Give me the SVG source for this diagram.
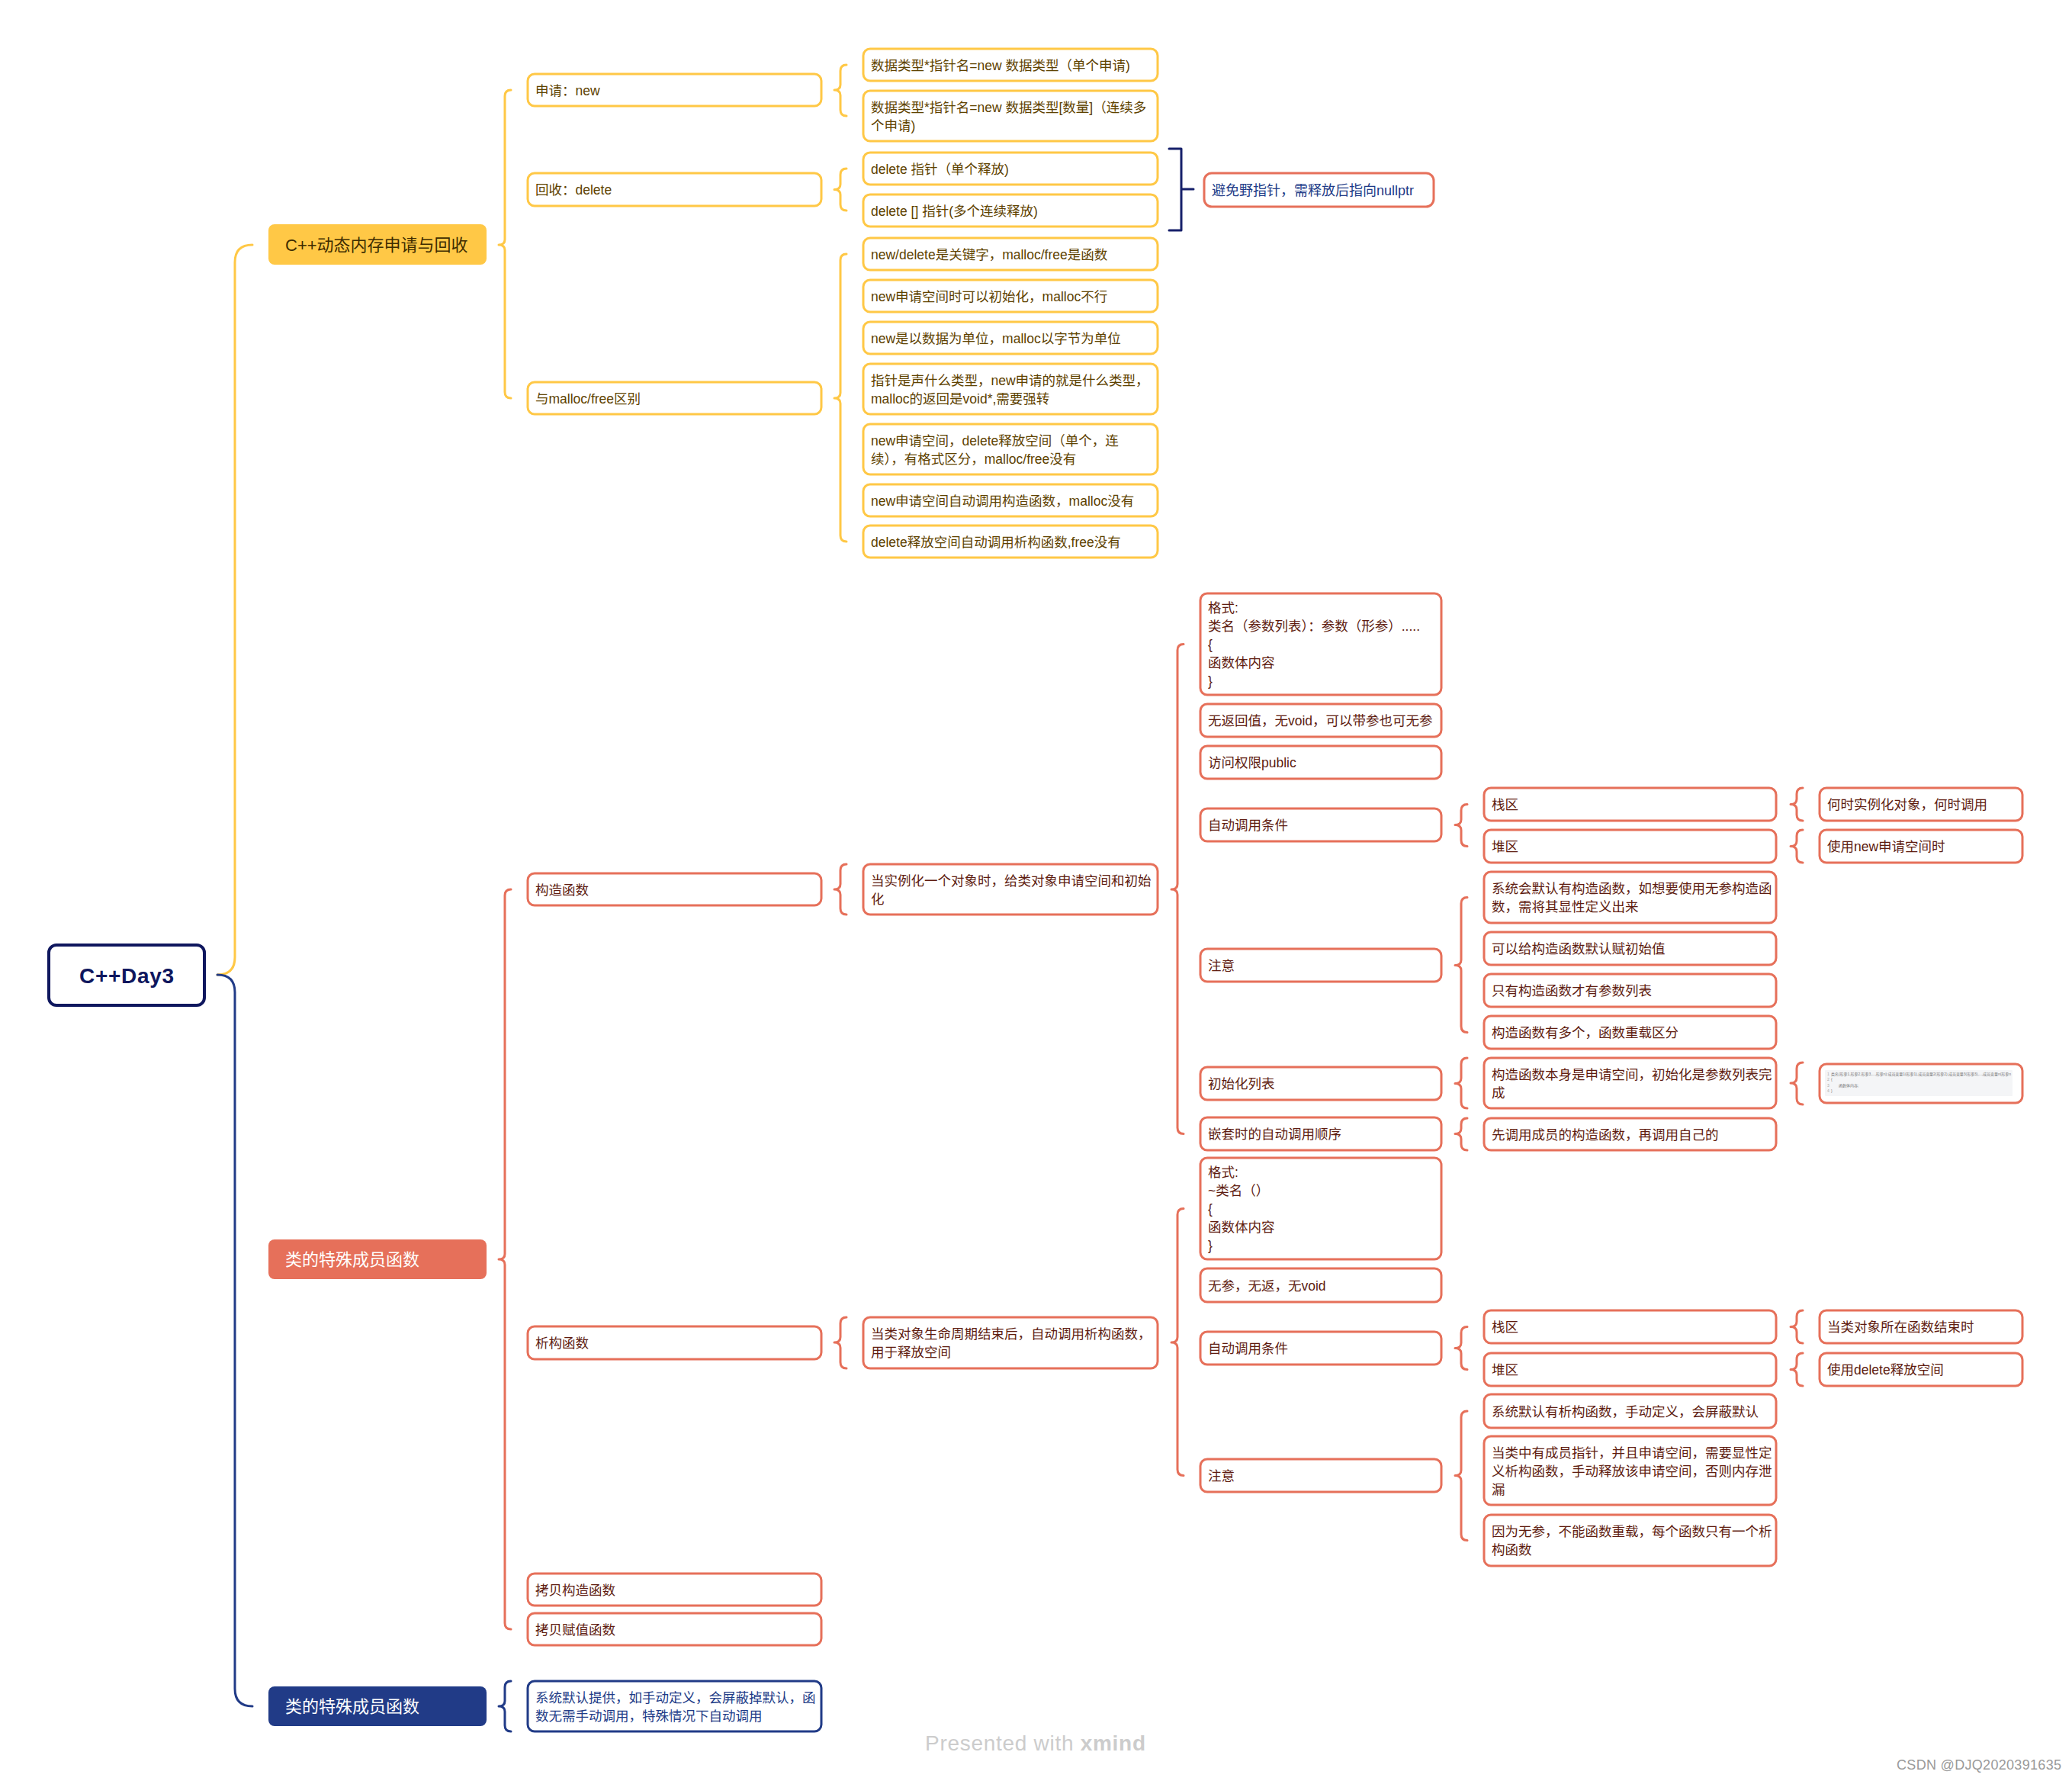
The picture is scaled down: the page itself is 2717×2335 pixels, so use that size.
<svg xmlns="http://www.w3.org/2000/svg" width="2717" height="2335" viewBox="0 0 2717 2335">
<style>
text{font-family:"Liberation Sans","Noto Sans CJK SC",sans-serif;font-size:17.5px}
.b rect{fill:#fff;stroke-width:3}
.y rect{stroke:#FFC846}
.s rect{stroke:#E6705A}
.n rect{stroke:#213B87}
.y text{fill:#5E4200}
.s text{fill:#5E1C10}
.n text{fill:#213B87}
.l1 text{font-size:22px}
.cy,.cs,.cn,.cd{fill:none;stroke-width:3;stroke-linejoin:round;stroke-linecap:round}
.cy{stroke:#FFC846}
.cs{stroke:#E6705A}
.cn{stroke:#213B87}
.cd{stroke:#16206A}
</style>
<rect width="2717" height="2335" fill="#fff"/>
<g id="connectors">
<path class="cy" d="M285,1278 Q308,1278 308,1255 V344 Q308,321 331,321"/>
<path class="cn" d="M285,1278 Q308,1278 308,1301 V2214 Q308,2237 331,2237"/>
<path class="cy" d="M670,118 Q662,118 662,126 V314 Q662,321 654,321 Q662,321 662,328 V514 Q662,522 670,522"/>
<path class="cy" d="M1110,85 Q1102,85 1102,93 V111 Q1102,118 1094,118 Q1102,118 1102,125 V144 Q1102,152 1110,152"/>
<path class="cy" d="M1110,221 Q1102,221 1102,229 V241.5 Q1102,248.5 1094,248.5 Q1102,248.5 1102,255.5 V268 Q1102,276 1110,276"/>
<path class="cy" d="M1110,333 Q1102,333 1102,341 V515 Q1102,522 1094,522 Q1102,522 1102,529 V702 Q1102,710 1110,710"/>
<path class="cd" d="M1533,195 H1549 V302 H1533 M1549,248 H1565" stroke-linecap="butt"/>
<path class="cs" d="M670,1166 Q662,1166 662,1174 V1644 Q662,1651 654,1651 Q662,1651 662,1658 V2128 Q662,2136 670,2136"/>
<path class="cs" d="M1110,1133 Q1102,1133 1102,1141 V1159 Q1102,1166 1094,1166 Q1102,1166 1102,1173 V1191 Q1102,1199 1110,1199"/>
<path class="cs" d="M1552,844.5 Q1544,844.5 1544,852.5 V1159 Q1544,1166 1536,1166 Q1544,1166 1544,1173 V1478.5 Q1544,1486.5 1552,1486.5"/>
<path class="cs" d="M1924,1054.5 Q1916,1054.5 1916,1062.5 V1074.5 Q1916,1081.5 1908,1081.5 Q1916,1081.5 1916,1088.5 V1101.5 Q1916,1109.5 1924,1109.5"/>
<path class="cs" d="M1924,1176.5 Q1916,1176.5 1916,1184.5 V1258.5 Q1916,1265.5 1908,1265.5 Q1916,1265.5 1916,1272.5 V1345.5 Q1916,1353.5 1924,1353.5"/>
<path class="cs" d="M1924,1387 Q1916,1387 1916,1395 V1413.5 Q1916,1420.5 1908,1420.5 Q1916,1420.5 1916,1427.5 V1445 Q1916,1453 1924,1453"/>
<path class="cs" d="M1924,1466 Q1916,1466 1916,1474 V1479.5 Q1916,1486.5 1908,1486.5 Q1916,1486.5 1916,1493.5 V1500 Q1916,1508 1924,1508"/>
<path class="cs" d="M2364,1033 Q2356,1033 2356,1041 V1047.5 Q2356,1054.5 2348,1054.5 Q2356,1054.5 2356,1061.5 V1068 Q2356,1076 2364,1076"/>
<path class="cs" d="M2364,1088 Q2356,1088 2356,1096 V1102.5 Q2356,1109.5 2348,1109.5 Q2356,1109.5 2356,1116.5 V1123 Q2356,1131 2364,1131"/>
<path class="cs" d="M2364,1393 Q2356,1393 2356,1401 V1413 Q2356,1420 2348,1420 Q2356,1420 2356,1427 V1440 Q2356,1448 2364,1448"/>
<path class="cs" d="M1110,1727 Q1102,1727 1102,1735 V1753 Q1102,1760 1094,1760 Q1102,1760 1102,1767 V1786 Q1102,1794 1110,1794"/>
<path class="cs" d="M1552,1584.5 Q1544,1584.5 1544,1592.5 V1753 Q1544,1760 1536,1760 Q1544,1760 1544,1767 V1926.5 Q1544,1934.5 1552,1934.5"/>
<path class="cs" d="M1924,1739.5 Q1916,1739.5 1916,1747.5 V1760.5 Q1916,1767.5 1908,1767.5 Q1916,1767.5 1916,1774.5 V1787.5 Q1916,1795.5 1924,1795.5"/>
<path class="cs" d="M1924,1850 Q1916,1850 1916,1858 V1927.5 Q1916,1934.5 1908,1934.5 Q1916,1934.5 1916,1941.5 V2011.5 Q1916,2019.5 1924,2019.5"/>
<path class="cs" d="M2364,1718 Q2356,1718 2356,1726 V1732.5 Q2356,1739.5 2348,1739.5 Q2356,1739.5 2356,1746.5 V1753 Q2356,1761 2364,1761"/>
<path class="cs" d="M2364,1774 Q2356,1774 2356,1782 V1788.5 Q2356,1795.5 2348,1795.5 Q2356,1795.5 2356,1802.5 V1809 Q2356,1817 2364,1817"/>
<path class="cn" d="M670,2204 Q662,2204 662,2212 V2230 Q662,2237 654,2237 Q662,2237 662,2244 V2262 Q662,2270 670,2270"/>
</g>

<g id="root"><rect x="64" y="1239" width="204" height="79" rx="10" fill="#fff" stroke="#0F175E" stroke-width="4"/><text x="104" y="1289" font-weight="bold" fill="#0F175E" textLength="124" style="font-size:28px">C++Day3</text></g>

<g id="b1" class="l1"><rect x="352" y="294" width="286" height="53" rx="8" fill="#FFC846"/><text x="374" y="329" fill="#3E2C00">C++动态内存申请与回收</text></g>
<g id="b2" class="l1"><rect x="352" y="1625" width="286" height="52" rx="8" fill="#E6705A"/><text x="374" y="1659" fill="#fff">类的特殊成员函数</text></g>
<g id="b3" class="l1"><rect x="352" y="2211" width="286" height="52" rx="8" fill="#213B87"/><text x="374" y="2245" fill="#fff">类的特殊成员函数</text></g>

<g id="n-new" class="b y"><rect x="692" y="97" width="385" height="42" rx="9"/><text x="702" y="124.5">申请：new</text></g>
<g id="n-delete" class="b y"><rect x="692" y="227" width="385" height="43" rx="9"/><text x="702" y="255">回收：delete</text></g>
<g id="n-malloc" class="b y"><rect x="692" y="501" width="385" height="42" rx="9"/><text x="702" y="528.5">与malloc/free区别</text></g>

<g id="n-new1" class="b y"><rect x="1132" y="64" width="386" height="42" rx="9"/><text x="1142" y="91.5">数据类型*指针名=new 数据类型（单个申请)</text></g>
<g id="n-new2" class="b y"><rect x="1132" y="119" width="386" height="66" rx="9"/><text x="1142" y="146.5">数据类型*指针名=new 数据类型[数量]（连续多</text><text x="1142" y="170.5">个申请)</text></g>
<g id="n-del1" class="b y"><rect x="1132" y="200" width="386" height="42" rx="9"/><text x="1142" y="227.5">delete 指针（单个释放)</text></g>
<g id="n-del2" class="b y"><rect x="1132" y="255" width="386" height="42" rx="9"/><text x="1142" y="282.5">delete [] 指针(多个连续释放)</text></g>
<g id="n-sum" class="b s"><rect x="1579" y="227" width="301" height="44" rx="10"/><text x="1589" y="255.5" style="fill:#213B87;font-size:18px">避免野指针，需释放后指向nullptr</text></g>
<g id="n-m1" class="b y"><rect x="1132" y="312" width="386" height="42" rx="9"/><text x="1142" y="339.5">new/delete是关键字，malloc/free是函数</text></g>
<g id="n-m2" class="b y"><rect x="1132" y="367" width="386" height="42" rx="9"/><text x="1142" y="394.5">new申请空间时可以初始化，malloc不行</text></g>
<g id="n-m3" class="b y"><rect x="1132" y="422" width="386" height="42" rx="9"/><text x="1142" y="449.5">new是以数据为单位，malloc以字节为单位</text></g>
<g id="n-m4" class="b y"><rect x="1132" y="477" width="386" height="66" rx="9"/><text x="1142" y="504.5">指针是声什么类型，new申请的就是什么类型，</text><text x="1142" y="528.5">malloc的返回是void*,需要强转</text></g>
<g id="n-m5" class="b y"><rect x="1132" y="556" width="386" height="66" rx="9"/><text x="1142" y="583.5">new申请空间，delete释放空间（单个，连</text><text x="1142" y="607.5">续），有格式区分，malloc/free没有</text></g>
<g id="n-m6" class="b y"><rect x="1132" y="635" width="386" height="42" rx="9"/><text x="1142" y="662.5">new申请空间自动调用构造函数，malloc没有</text></g>
<g id="n-m7" class="b y"><rect x="1132" y="689" width="386" height="42" rx="9"/><text x="1142" y="716.5">delete释放空间自动调用析构函数,free没有</text></g>

<g id="n-ctor" class="b s"><rect x="692" y="1145" width="385" height="42" rx="9"/><text x="702" y="1172.5">构造函数</text></g>
<g id="n-dtor" class="b s"><rect x="692" y="1739" width="385" height="43" rx="9"/><text x="702" y="1766.5">析构函数</text></g>
<g id="n-copy1" class="b s"><rect x="692" y="2063" width="385" height="42" rx="9"/><text x="702" y="2091">拷贝构造函数</text></g>
<g id="n-copy2" class="b s"><rect x="692" y="2115" width="385" height="42" rx="9"/><text x="702" y="2143">拷贝赋值函数</text></g>

<g id="n-ctor-d" class="b s"><rect x="1132" y="1133" width="386" height="66" rx="9"/><text x="1142" y="1160.5">当实例化一个对象时，给类对象申请空间和初始</text><text x="1142" y="1184.5">化</text></g>
<g id="n-c1" class="b s"><rect x="1574" y="778" width="316" height="133" rx="9"/><text x="1584" y="803">格式:</text><text x="1584" y="827">类名（参数列表）：参数（形参）.....</text><text x="1584" y="851">{</text><text x="1584" y="875">函数体内容</text><text x="1584" y="899">}</text></g>
<g id="n-c2" class="b s"><rect x="1574" y="923" width="316" height="43" rx="9"/><text x="1584" y="951">无返回值，无void，可以带参也可无参</text></g>
<g id="n-c3" class="b s"><rect x="1574" y="978" width="316" height="43" rx="9"/><text x="1584" y="1006">访问权限public</text></g>
<g id="n-c4" class="b s"><rect x="1574" y="1060" width="316" height="43" rx="9"/><text x="1584" y="1088">自动调用条件</text></g>
<g id="n-c5" class="b s"><rect x="1574" y="1244" width="316" height="43" rx="9"/><text x="1584" y="1272">注意</text></g>
<g id="n-c6" class="b s"><rect x="1574" y="1399" width="316" height="43" rx="9"/><text x="1584" y="1427">初始化列表</text></g>
<g id="n-c7" class="b s"><rect x="1574" y="1465" width="316" height="43" rx="9"/><text x="1584" y="1493">嵌套时的自动调用顺序</text></g>

<g id="n-c4a" class="b s"><rect x="1946" y="1033" width="383" height="43" rx="9"/><text x="1956" y="1061">栈区</text></g>
<g id="n-c4b" class="b s"><rect x="1946" y="1088" width="383" height="43" rx="9"/><text x="1956" y="1116">堆区</text></g>
<g id="n-c4a1" class="b s"><rect x="2386" y="1033" width="266" height="43" rx="9"/><text x="2396" y="1061">何时实例化对象，何时调用</text></g>
<g id="n-c4b1" class="b s"><rect x="2386" y="1088" width="266" height="43" rx="9"/><text x="2396" y="1116">使用new申请空间时</text></g>
<g id="n-c5a" class="b s"><rect x="1946" y="1143" width="383" height="67" rx="9"/><text x="1956" y="1171">系统会默认有构造函数，如想要使用无参构造函</text><text x="1956" y="1195">数，需将其显性定义出来</text></g>
<g id="n-c5b" class="b s"><rect x="1946" y="1222" width="383" height="43" rx="9"/><text x="1956" y="1250">可以给构造函数默认赋初始值</text></g>
<g id="n-c5c" class="b s"><rect x="1946" y="1277" width="383" height="43" rx="9"/><text x="1956" y="1305">只有构造函数才有参数列表</text></g>
<g id="n-c5d" class="b s"><rect x="1946" y="1332" width="383" height="43" rx="9"/><text x="1956" y="1360">构造函数有多个，函数重载区分</text></g>
<g id="n-c6a" class="b s"><rect x="1946" y="1387" width="383" height="66" rx="9"/><text x="1956" y="1414.5">构造函数本身是申请空间，初始化是参数列表完</text><text x="1956" y="1438.5">成</text></g>
<g id="n-c6a1" class="b s"><rect x="2386" y="1395" width="266" height="51" rx="9"/><rect x="2393" y="1403" width="246" height="34" rx="1" style="fill:#F4F5F7;stroke:none"/><g><text x="2396" y="1410" style="font-size:5px;fill:#aaa">1</text><text x="2396" y="1417" style="font-size:5px;fill:#aaa">2</text><text x="2396" y="1425" style="font-size:5px;fill:#aaa">3</text><text x="2396" y="1432" style="font-size:5px;fill:#aaa">4</text><text x="2401" y="1410" textLength="236" style="font-size:5px;fill:#777">类名(形参1,形参2,形参3,...,形参n):成员变量1(形参1),成员变量2(形参2),成员变量3(形参3),...,成员变量n(形参n</text><text x="2401" y="1417" style="font-size:5px;fill:#777">{</text><text x="2411" y="1425" style="font-size:5px;fill:#777">函数体内容;</text><text x="2401" y="1432" style="font-size:5px;fill:#777">}</text></g></g>
<g id="n-c7a" class="b s"><rect x="1946" y="1466" width="383" height="42" rx="9"/><text x="1956" y="1493.5">先调用成员的构造函数，再调用自己的</text></g>

<g id="n-dtor-d" class="b s"><rect x="1132" y="1727" width="386" height="67" rx="9"/><text x="1142" y="1755">当类对象生命周期结束后，自动调用析构函数，</text><text x="1142" y="1779">用于释放空间</text></g>
<g id="n-d1" class="b s"><rect x="1574" y="1518" width="316" height="133" rx="9"/><text x="1584" y="1543">格式:</text><text x="1584" y="1567">~类名（）</text><text x="1584" y="1591">{</text><text x="1584" y="1615">函数体内容</text><text x="1584" y="1639">}</text></g>
<g id="n-d2" class="b s"><rect x="1574" y="1663" width="316" height="44" rx="9"/><text x="1584" y="1691.5">无参，无返，无void</text></g>
<g id="n-d3" class="b s"><rect x="1574" y="1746" width="316" height="43" rx="9"/><text x="1584" y="1774">自动调用条件</text></g>
<g id="n-d4" class="b s"><rect x="1574" y="1913" width="316" height="43" rx="9"/><text x="1584" y="1941">注意</text></g>
<g id="n-d3a" class="b s"><rect x="1946" y="1718" width="383" height="43" rx="9"/><text x="1956" y="1746">栈区</text></g>
<g id="n-d3b" class="b s"><rect x="1946" y="1774" width="383" height="43" rx="9"/><text x="1956" y="1802">堆区</text></g>
<g id="n-d3a1" class="b s"><rect x="2386" y="1718" width="266" height="43" rx="9"/><text x="2396" y="1746">当类对象所在函数结束时</text></g>
<g id="n-d3b1" class="b s"><rect x="2386" y="1774" width="266" height="43" rx="9"/><text x="2396" y="1802">使用delete释放空间</text></g>
<g id="n-d4a" class="b s"><rect x="1946" y="1828" width="383" height="44" rx="9"/><text x="1956" y="1856.5">系统默认有析构函数，手动定义，会屏蔽默认</text></g>
<g id="n-d4b" class="b s"><rect x="1946" y="1883" width="383" height="90" rx="9"/><text x="1956" y="1910.5">当类中有成员指针，并且申请空间，需要显性定</text><text x="1956" y="1934.5">义析构函数，手动释放该申请空间，否则内存泄</text><text x="1956" y="1958.5">漏</text></g>
<g id="n-d4c" class="b s"><rect x="1946" y="1986" width="383" height="67" rx="9"/><text x="1956" y="2014">因为无参，不能函数重载，每个函数只有一个析</text><text x="1956" y="2038">构函数</text></g>

<g id="n-b3a" class="b n"><rect x="692" y="2204" width="385" height="66" rx="9"/><text x="702" y="2231.5">系统默认提供，如手动定义，会屏蔽掉默认，函</text><text x="702" y="2255.5">数无需手动调用，特殊情况下自动调用</text></g>

<text x="1213" y="2295" textLength="289" style="font-size:28px;fill:#cccccc">Presented with <tspan font-weight="bold">xmind</tspan></text>
<text x="2487" y="2320" textLength="216" style="font-size:18px;fill:#9a9a9a">CSDN @DJQ2020391635</text>
</svg>
